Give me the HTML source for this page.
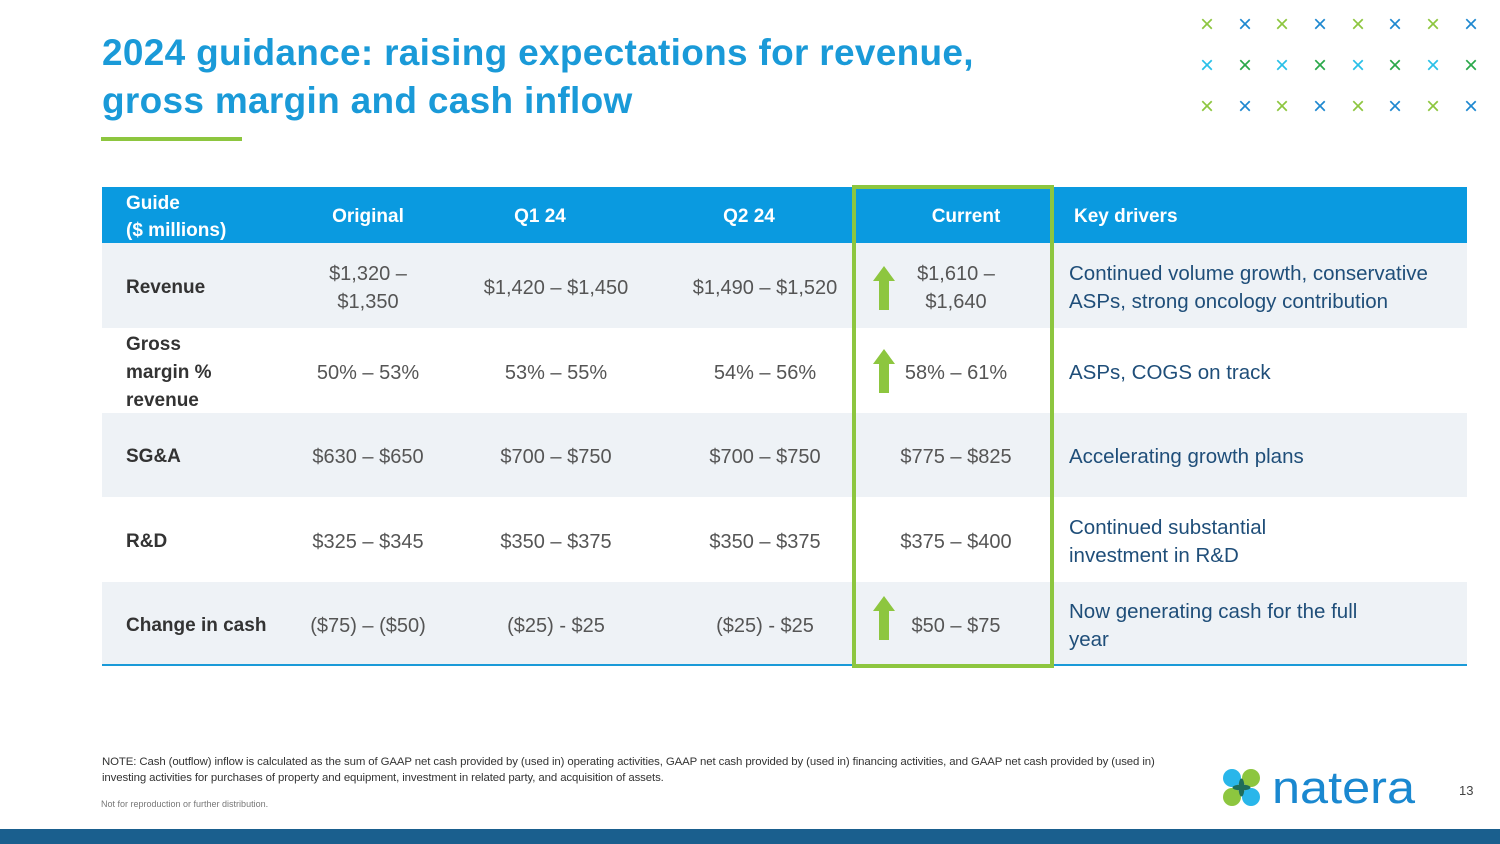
<!DOCTYPE html>
<html><head><meta charset="utf-8"><style>
*{margin:0;padding:0;box-sizing:border-box}
body{width:1500px;height:844px;position:relative;background:#fff;font-family:"Liberation Sans",Arial,sans-serif;overflow:hidden}
.a{position:absolute}
.title{left:102px;top:29px;font-size:37px;font-weight:bold;color:#1a9ad8;line-height:48px;letter-spacing:0.3px}
.x{position:absolute;font-size:24px;line-height:22px;width:20px;text-align:center}
.row{position:absolute;left:102px;width:1365px}
.c{position:absolute;display:flex;align-items:center;justify-content:center;text-align:center;font-size:20px;color:#555;line-height:28px;height:100%;top:2px}
.lab{justify-content:flex-start;text-align:left;left:24px;width:170px;font-weight:bold;color:#333;font-size:19px}
.kd{justify-content:flex-start;text-align:left;left:967px;width:398px;color:#1f4e79;font-size:20.5px}
.hd .c{color:#fff;font-weight:bold;font-size:19px}
.arrow{position:absolute;left:771px;width:22px;height:44px}
</style></head><body>
<div class="a title">2024 guidance: raising expectations for revenue,<br>gross margin and cash inflow</div>
<div class="a" style="left:101px;top:137px;width:141px;height:4px;background:#8dc63f"></div>
<div id="xs"></div>

<div class="row hd" style="top:187px;height:56px;background:#0a9ae0">
<div class="c lab" style="color:#fff;font-size:19px;line-height:27px">Guide<br>($ millions)</div>
<div class="c" style="left:196px;width:140px">Original</div>
<div class="c" style="left:368px;width:140px">Q1 24</div>
<div class="c" style="left:577px;width:140px">Q2 24</div>
<div class="c" style="left:794px;width:140px">Current</div>
<div class="c kd" style="left:972px;color:#fff;font-size:19px">Key drivers</div>
</div>

<div class="row" style="top:243px;height:85px;background:#eef2f6">
<div class="c lab">Revenue</div>
<div class="c" style="left:196px;width:140px">$1,320 –<br>$1,350</div>
<div class="c" style="left:364px;width:180px">$1,420 – $1,450</div>
<div class="c" style="left:573px;width:180px">$1,490 – $1,520</div>
<div class="arrow" style="top:23px"><svg width="22" height="44"><polygon points="11,0 22,15 16,15 16,44 6,44 6,15 0,15" fill="#8dc63f"/></svg></div>
<div class="c" style="left:794px;width:120px">$1,610 –<br>$1,640</div>
<div class="c kd">Continued volume growth, conservative ASPs, strong oncology contribution</div>
</div>

<div class="row" style="top:328px;height:85px;background:#fff">
<div class="c lab">Gross<br>margin %<br>revenue</div>
<div class="c" style="left:196px;width:140px">50% – 53%</div>
<div class="c" style="left:364px;width:180px">53% – 55%</div>
<div class="c" style="left:573px;width:180px">54% – 56%</div>
<div class="arrow" style="top:21px"><svg width="22" height="44"><polygon points="11,0 22,15 16,15 16,44 6,44 6,15 0,15" fill="#8dc63f"/></svg></div>
<div class="c" style="left:794px;width:120px">58% – 61%</div>
<div class="c kd">ASPs, COGS on track</div>
</div>

<div class="row" style="top:413px;height:84px;background:#eef2f6">
<div class="c lab">SG&amp;A</div>
<div class="c" style="left:196px;width:140px">$630 – $650</div>
<div class="c" style="left:364px;width:180px">$700 – $750</div>
<div class="c" style="left:573px;width:180px">$700 – $750</div>
<div class="c" style="left:784px;width:140px">$775 – $825</div>
<div class="c kd">Accelerating growth plans</div>
</div>

<div class="row" style="top:497px;height:85px;background:#fff">
<div class="c lab">R&amp;D</div>
<div class="c" style="left:196px;width:140px">$325 – $345</div>
<div class="c" style="left:364px;width:180px">$350 – $375</div>
<div class="c" style="left:573px;width:180px">$350 – $375</div>
<div class="c" style="left:784px;width:140px">$375 – $400</div>
<div class="c kd">Continued substantial<br>investment in R&amp;D</div>
</div>

<div class="row" style="top:582px;height:83px;background:#eef2f6">
<div class="c lab">Change in cash</div>
<div class="c" style="left:186px;width:160px">($75) – ($50)</div>
<div class="c" style="left:364px;width:180px">($25) - $25</div>
<div class="c" style="left:573px;width:180px">($25) - $25</div>
<div class="arrow" style="top:14px"><svg width="22" height="44"><polygon points="11,0 22,15 16,15 16,44 6,44 6,15 0,15" fill="#8dc63f"/></svg></div>
<div class="c" style="left:794px;width:120px">$50 – $75</div>
<div class="c kd">Now generating cash for the full<br>year</div>
</div>
<div class="a" style="left:102px;top:664px;width:1365px;height:2px;background:#1a9ad8"></div>
<div class="a" style="left:852px;top:185px;width:202px;height:483px;border:4px solid #8dc63f"></div>

<div class="a" style="left:102px;top:754px;width:1090px;font-size:11.4px;line-height:16px;color:#333;letter-spacing:-0.1px;white-space:nowrap">NOTE: Cash (outflow) inflow is calculated as the sum of GAAP net cash provided by (used in) operating activities, GAAP net cash provided by (used in) financing activities, and GAAP net cash provided by (used in)<br>investing activities for purchases of property and equipment, investment in related party, and acquisition of assets.</div>
<div class="a" style="left:101px;top:799px;font-size:9px;color:#777">Not for reproduction or further distribution.</div>

<div class="a" style="left:1222px;top:766px;width:210px;height:46px">
<svg width="210" height="46"><circle cx="10" cy="12" r="9" fill="#29b6ea"/><circle cx="29" cy="12" r="9" fill="#8dc63f"/><circle cx="10" cy="31" r="9" fill="#8dc63f"/><circle cx="29" cy="31" r="9" fill="#29b6ea"/><ellipse cx="19.5" cy="21.5" rx="3" ry="9" fill="#1e6d5a"/><ellipse cx="19.5" cy="21.5" rx="9" ry="3" fill="#1e6d5a"/>
<text x="50" y="37" font-family="Liberation Sans, sans-serif" font-size="45" fill="#1a88d0" textLength="143" lengthAdjust="spacingAndGlyphs">natera</text></svg></div>
<div class="a" style="left:1459px;top:783px;font-size:13px;color:#444">13</div>
<div class="a" style="left:0;top:829px;width:1500px;height:15px;background:#1a5f8e"></div>
<script>
var xs=[1207,1245,1282,1320,1358,1395,1433,1471],ys=[25,66,107];
var cont=document.getElementById('xs');
ys.forEach(function(y,r){xs.forEach(function(x,i){
var d=document.createElement('div');d.className='x';


d.textContent='×';
var col=r==1?(i%2?'#2aa84a':'#29c0e8'):(i%2?'#1e88d0':'#8dc63f');
d.style.color=col;d.style.left=(x-10)+'px';d.style.top=(y-11)+'px';cont.appendChild(d);});});
</script>
</body></html>
